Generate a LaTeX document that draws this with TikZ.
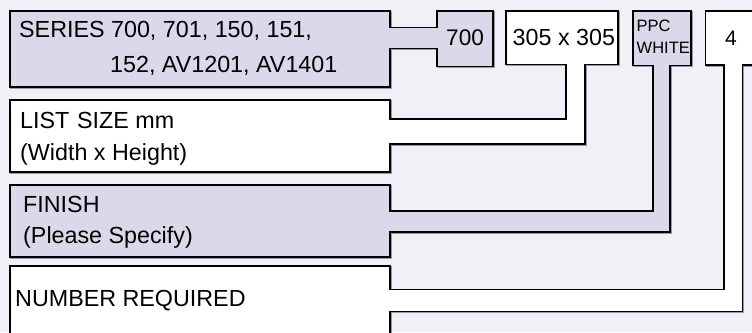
\documentclass[tikz,border=0pt]{standalone}
\usepackage{fontspec}
\setmainfont{Liberation Sans}
\definecolor{bgcol}{HTML}{F1F0F6}
\definecolor{lav}{HTML}{DAD9EA}
\definecolor{shadowcol}{HTML}{9A9AA6}
\begin{document}
\begin{tikzpicture}[x=1pt,y=-1pt,
  outline/.style={draw=black,line width=1.2pt,line join=miter},
  shadowline/.style={draw=shadowcol,line width=1.2pt,shift={(1,1)}},
  lbl/.style={anchor=base west,inner sep=0pt,font=\fontsize{23.3}{23.3}\selectfont},
  small/.style={anchor=base west,inner sep=0pt,font=\fontsize{16.5}{16.5}\selectfont}]
\useasboundingbox (0,0) rectangle (752,332);
\fill[bgcol] (0,0) rectangle (752,332);
\clip (0,0) rectangle (752,332);
% shape A : series + 700
\def\shapeA{(10,11) -- (390,11) -- (390,27.5) -- (437,27.5) -- (437,11) -- (493,11) -- (493,66.5) -- (437,66.5) -- (437,48.5) -- (390,48.5) -- (390,87) -- (10,87) -- cycle}
% shape B : list size + 305
\def\shapeB{(10,100) -- (390,100) -- (390,119) -- (566,119) -- (566,64.5) -- (506,64.5) -- (506,11) -- (618,11) -- (618,64.5) -- (585,64.5) -- (585,144) -- (390,144) -- (390,172) -- (10,172) -- cycle}
% shape C : finish + PPC
\def\shapeC{(10,185) -- (390,185) -- (390,211) -- (653,211) -- (653,65.5) -- (633,65.5) -- (633,11) -- (691,11) -- (691,65.5) -- (670,65.5) -- (670,232) -- (390,232) -- (390,257) -- (10,257) -- cycle}
% shape D : number + 4
\def\shapeD{(10,345) -- (10,266) -- (390,266) -- (390,289.5) -- (724,289.5) -- (724,65) -- (705.5,65) -- (705.5,11) -- (765,11) -- (765,65) -- (742.5,65) -- (742.5,311.5) -- (390,311.5) -- (390,345)}
\foreach \s/\f in {\shapeA/lav,\shapeB/white,\shapeC/lav,\shapeD/white}{
  \path[shadowline] \s;
  \path[outline,fill=\f] \s;
}
\node[lbl] (series1) at (19,37.5) {SERIES 700, 701, 150, 151,};
\node[lbl] (series2) at (110,72) {152, AV1201, AV1401};
\node[lbl] (size1) at (20,128) {LIST\,\,SIZE mm};
\node[lbl] (size2) at (20,160) {(Width x Height)};
\node[lbl] (fin1) at (23,212.5) {FINISH};
\node[lbl] (fin2) at (23,243) {(Please Specify)};
\node[lbl] (num) at (15,306.5) {NUMBER REQUIRED};
\node[lbl,font=\fontsize{22.6}{22.6}\selectfont] (v700) at (446,45.5) {700};
\node[lbl] (v305) at (512.5,45.5) {305 x 305};
\node[small] (ppc) at (636.5,31.5) {PPC};
\node[small] (white) at (636.5,53.5) {WHITE};
\node[lbl,font=\fontsize{21}{21}\selectfont] (four) at (725,45.5) {4};
\end{tikzpicture}
\end{document}
